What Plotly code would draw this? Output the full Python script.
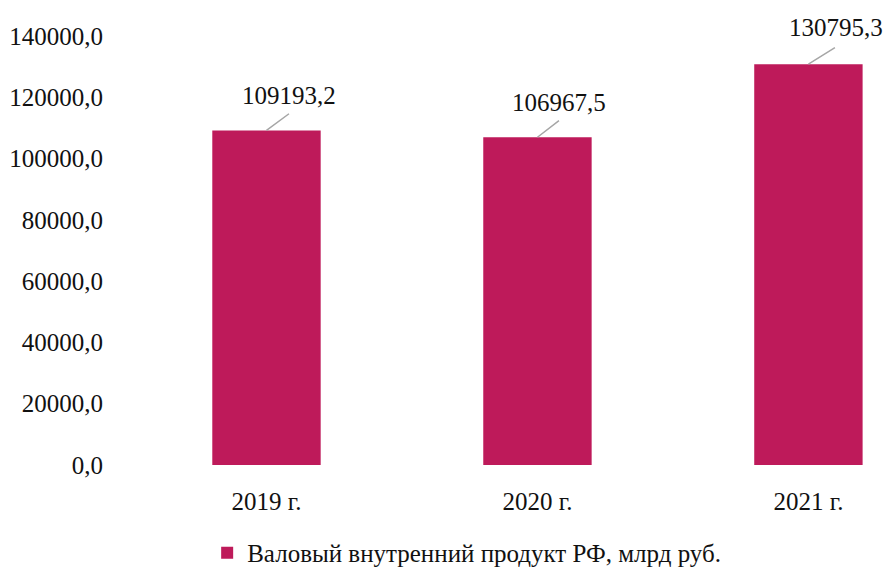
import plotly.graph_objects as go

categories = ["2019 г.", "2020 г.", "2021 г."]
values = [109193.2, 106967.5, 130795.3]
value_labels = ["109193,2", "106967,5", "130795,3"]
y_tickvals = [0, 20000, 40000, 60000, 80000, 100000, 120000, 140000]
y_ticktext = ["0,0", "20000,0", "40000,0", "60000,0", "80000,0", "100000,0", "120000,0", "140000,0"]
series_name = "Валовый внутренний продукт РФ, млрд руб."

BAR = "#BE1A5A"
FONT = "Liberation Serif"
FS = 25

fig = go.Figure()
fig.add_trace(go.Bar(
    x=[0, 1, 2], y=values, name=series_name,
    marker=dict(color=BAR, line=dict(width=0)),
    width=0.4, showlegend=True,
))

# label placement (pixel offsets from bar top-centre)
label_dx = [23, 22, 28]
label_dy = [35, 35, 37]
leader_dx = [23, 22, 27]
leader_dy = [17, 17, 17]
for i, (v, t) in enumerate(zip(values, value_labels)):
    # leader line
    fig.add_annotation(
        x=i, y=v, xref="x", yref="y", text=" ",
        showarrow=True, arrowhead=0, arrowwidth=1.5, arrowcolor="#A6A6A6",
        ax=leader_dx[i], ay=-leader_dy[i], standoff=0, borderpad=0,
        font=dict(size=1),
    )
    # value label
    fig.add_annotation(
        x=i, y=v, xref="x", yref="y", text=t, showarrow=False,
        xshift=label_dx[i], yshift=label_dy[i],
        font=dict(family=FONT, size=FS, color="#111111"),
    )

fig.update_layout(
    width=887, height=568,
    margin=dict(l=131, r=0, t=36, b=103, autoexpand=False),
    paper_bgcolor="white", plot_bgcolor="white",
    font=dict(family=FONT, size=FS, color="#111111"),
    bargap=0.6,
    showlegend=True,
    legend=dict(orientation="h", x=0.444, xref="paper", xanchor="center",
                y=-0.205, yanchor="middle",
                font=dict(family=FONT, size=FS, color="#111111"),
                itemwidth=30),
    xaxis=dict(range=[-0.5, 2.29], tickvals=[0, 1, 2], ticktext=categories,
               showgrid=False, zeroline=False, showline=False,
               ticks="outside", ticklen=14, tickcolor="rgba(0,0,0,0)"),
    yaxis=dict(range=[0, 140000], tickvals=y_tickvals, ticktext=y_ticktext,
               showgrid=False, zeroline=False, showline=False,
               ticks="outside", ticklen=22, tickcolor="rgba(0,0,0,0)"),
)

fig.write_html("out.html", config={"displayModeBar": False},
               post_script="document.body.style.margin='0';")
